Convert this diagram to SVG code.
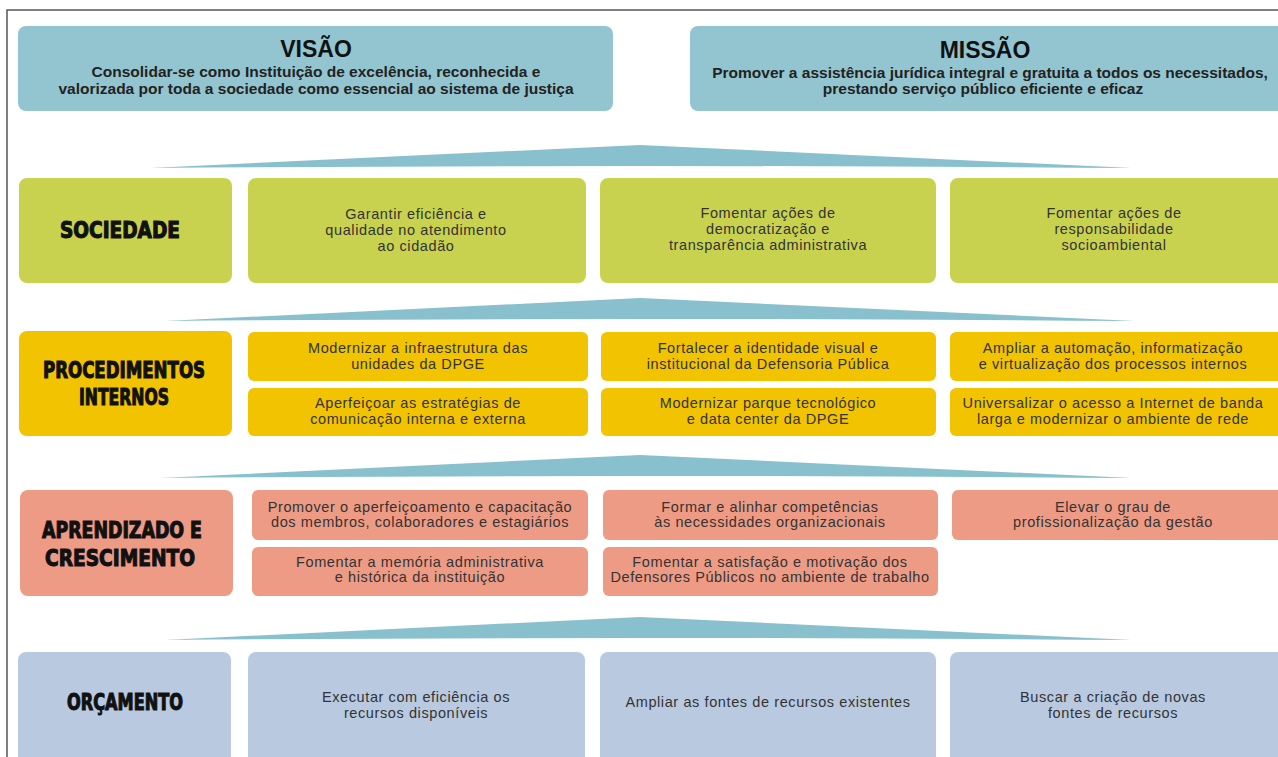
<svg xmlns="http://www.w3.org/2000/svg" width="1278" height="757" viewBox="0 0 1278 757">
<style>
.frame{fill:none;stroke:#555;stroke-width:1.5}
.vm{fill:#93c5d0}
.wedge{fill:#88c1cd}
.soc{fill:#c9d24f}
.proc{fill:#f2c300}
.apr{fill:#ee9b86}
.orc{fill:#b9cae0}
.lbl{font-family:"DejaVu Sans Condensed","Liberation Sans Narrow","Liberation Sans",sans-serif;font-weight:bold;font-size:23px;fill:#111;stroke:#111;stroke-width:1.1;text-anchor:middle}
.t{font-family:"Liberation Sans",Arial,sans-serif;font-size:14.5px;letter-spacing:0.6px;fill:#333;text-anchor:middle}
.h{font-family:"Liberation Sans",Arial,sans-serif;font-weight:bold;font-size:23px;fill:#111;text-anchor:middle}
.hd{font-family:"Liberation Sans",Arial,sans-serif;font-weight:bold;font-size:15.5px;fill:#222;text-anchor:middle}
</style>
<rect width="1278" height="757" fill="#fff"/>
<path class="frame" d="M7,757 V10 H1278"/>

<g id="connectors">
<path class="wedge" d="M150,168 L640,145 L1132,168 Q640,164 150,168Z"/>
<path class="wedge" d="M165,321 L640,298 L1135,321 Q640,317 165,321Z"/>
<path class="wedge" d="M160,478 L640,455 L1132,478 Q640,474 160,478Z"/>
<path class="wedge" d="M165,640 L640,617 L1132,640 Q640,636 165,640Z"/>
</g>

<g id="visao">
<rect class="vm" x="18" y="26" width="595" height="85" rx="8"/>
<text class="h" x="316" y="57">VISÃO</text>
<text class="hd" x="316" y="77">Consolidar-se como Instituição de excelência, reconhecida e</text>
<text class="hd" x="316" y="94">valorizada por toda a sociedade como essencial ao sistema de justiça</text>
</g>
<g id="missao">
<rect class="vm" x="690" y="26" width="600" height="85" rx="8"/>
<text class="h" x="985" y="58">MISSÃO</text>
<text class="hd" x="990" y="78">Promover a assistência jurídica integral e gratuita a todos os necessitados,</text>
<text class="hd" x="983" y="94">prestando serviço público eficiente e eficaz</text>
</g>

<g id="sociedade">
<rect class="soc" x="19" y="178" width="213" height="105" rx="8"/>
<text class="lbl" x="120" y="238" textLength="120" lengthAdjust="spacingAndGlyphs">SOCIEDADE</text>
</g>
<g id="soc1">
<rect class="soc" x="248" y="178" width="338" height="105" rx="8"/>
<text class="t" x="416" y="219">Garantir eficiência e</text>
<text class="t" x="416" y="235">qualidade no atendimento</text>
<text class="t" x="416" y="251">ao cidadão</text>
</g>
<g id="soc2">
<rect class="soc" x="600" y="178" width="336" height="105" rx="8"/>
<text class="t" x="768" y="218">Fomentar ações de</text>
<text class="t" x="768" y="234">democratização e</text>
<text class="t" x="768" y="250">transparência administrativa</text>
</g>
<g id="soc3">
<rect class="soc" x="950" y="178" width="340" height="105" rx="8"/>
<text class="t" x="1114" y="218">Fomentar ações de</text>
<text class="t" x="1114" y="234">responsabilidade</text>
<text class="t" x="1114" y="250">socioambiental</text>
</g>

<g id="procedimentos">
<rect class="proc" x="19" y="331" width="213" height="105" rx="8"/>
<text class="lbl" x="124" y="378" textLength="162" lengthAdjust="spacingAndGlyphs">PROCEDIMENTOS</text>
<text class="lbl" x="124" y="405" textLength="90" lengthAdjust="spacingAndGlyphs">INTERNOS</text>
</g>
<g id="proc1">
<rect class="proc" x="248" y="332" width="340" height="49" rx="6"/>
<text class="t" x="418" y="353">Modernizar a infraestrutura das</text>
<text class="t" x="418" y="369">unidades da DPGE</text>
</g>
<g id="proc2">
<rect class="proc" x="248" y="388" width="340" height="48" rx="6"/>
<text class="t" x="418" y="408">Aperfeiçoar as estratégias de</text>
<text class="t" x="418" y="424">comunicação interna e externa</text>
</g>
<g id="proc3">
<rect class="proc" x="601" y="332" width="335" height="49" rx="6"/>
<text class="t" x="768" y="353">Fortalecer a identidade visual e</text>
<text class="t" x="768" y="369">institucional da Defensoria Pública</text>
</g>
<g id="proc4">
<rect class="proc" x="601" y="388" width="335" height="48" rx="6"/>
<text class="t" x="768" y="408">Modernizar parque tecnológico</text>
<text class="t" x="768" y="424">e data center da DPGE</text>
</g>
<g id="proc5">
<rect class="proc" x="950" y="332" width="340" height="49" rx="6"/>
<text class="t" x="1113" y="353">Ampliar a automação, informatização</text>
<text class="t" x="1113" y="369">e virtualização dos processos internos</text>
</g>
<g id="proc6">
<rect class="proc" x="950" y="388" width="340" height="48" rx="6"/>
<text class="t" x="1113" y="408">Universalizar o acesso a Internet de banda</text>
<text class="t" x="1113" y="424">larga e modernizar o ambiente de rede</text>
</g>

<g id="aprendizado">
<rect class="apr" x="20" y="490" width="213" height="106" rx="8"/>
<text class="lbl" x="122" y="538" textLength="160" lengthAdjust="spacingAndGlyphs">APRENDIZADO E</text>
<text class="lbl" x="120" y="566" textLength="150" lengthAdjust="spacingAndGlyphs">CRESCIMENTO</text>
</g>
<g id="apr1">
<rect class="apr" x="252" y="490" width="336" height="50" rx="6"/>
<text class="t" x="420" y="512">Promover o aperfeiçoamento e capacitação</text>
<text class="t" x="420" y="527">dos membros, colaboradores e estagiários</text>
</g>
<g id="apr2">
<rect class="apr" x="252" y="547" width="336" height="49" rx="6"/>
<text class="t" x="420" y="567">Fomentar a memória administrativa</text>
<text class="t" x="420" y="582">e histórica da instituição</text>
</g>
<g id="apr3">
<rect class="apr" x="603" y="490" width="335" height="50" rx="6"/>
<text class="t" x="770" y="512">Formar e alinhar competências</text>
<text class="t" x="770" y="527">às necessidades organizacionais</text>
</g>
<g id="apr4">
<rect class="apr" x="603" y="547" width="335" height="49" rx="6"/>
<text class="t" x="770" y="567">Fomentar a satisfação e motivação dos</text>
<text class="t" x="770" y="582">Defensores Públicos no ambiente de trabalho</text>
</g>
<g id="apr5">
<rect class="apr" x="952" y="490" width="340" height="50" rx="6"/>
<text class="t" x="1113" y="512">Elevar o grau de</text>
<text class="t" x="1113" y="527">profissionalização da gestão</text>
</g>

<g id="orcamento">
<rect class="orc" x="18" y="652" width="213" height="115" rx="8"/>
<text class="lbl" x="125" y="710" textLength="116" lengthAdjust="spacingAndGlyphs">ORÇAMENTO</text>
</g>
<g id="orc1">
<rect class="orc" x="248" y="652" width="337" height="115" rx="8"/>
<text class="t" x="416" y="702">Executar com eficiência os</text>
<text class="t" x="416" y="718">recursos disponíveis</text>
</g>
<g id="orc2">
<rect class="orc" x="600" y="652" width="336" height="115" rx="8"/>
<text class="t" x="768" y="707">Ampliar as fontes de recursos existentes</text>
</g>
<g id="orc3">
<rect class="orc" x="950" y="652" width="340" height="115" rx="8"/>
<text class="t" x="1113" y="702">Buscar a criação de novas</text>
<text class="t" x="1113" y="718">fontes de recursos</text>
</g>
</svg>
